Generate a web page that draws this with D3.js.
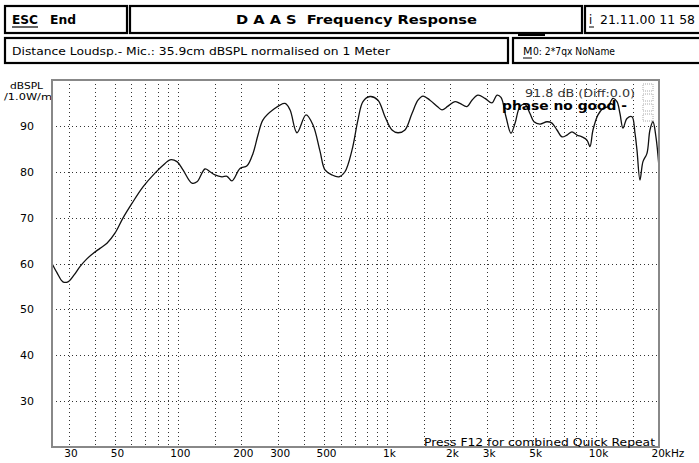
<!DOCTYPE html>
<html><head><meta charset="utf-8">
<script src="https://cdn.jsdelivr.net/npm/d3@7"></script>
<style>
body{margin:0;background:#fff;}
svg{display:block;font-family:"DejaVu Sans",sans-serif;}
</style></head>
<body><svg id="c" width="699" height="463"></svg>
<script>
// ---- data ----
const freqs = [25,26.4,28.2,29.8,31.9,34.0,36.7,39.3,42.4,45.8,50.0,54.6,60.3,68.1,77.7,86.8,91.7,99.0,105.8,116.8,123.4,134.8,142.4,150.5,162.5,171.7,181.4,198.2,214.1,228.7,241.6,255.3,285.0,325.3,343.7,371.3,410.0,442.8,478.3,505.3,545.8,589.4,629.7,680.2,726.6,767.7,829.4,906.0,978.5,1057,1129,1219,1317,1407,1487,1606,1735,1833,1958,2115,2234,2413,2550,2724,2942,3179,3358,3510,3708,3918,4094,4326,4571,4830,5048,5392,5824,6153,6502,6870,7260,7670,8107,8565,9048,9352,9666,10214,10792,11400,12047,12589,13012,13450,14057,14853,15351,15694,16218,16762,17518,18103,18713,19339,20000];
const dbspl = [60.0,58.0,56.0,56.0,57.5,59.3,61.0,62.2,63.3,64.4,66.6,69.9,73.1,76.7,79.7,81.8,82.6,82.2,80.4,77.5,77.8,80.6,80.0,79.3,78.9,79.0,78.0,80.7,81.3,84.0,88.0,91.3,93.5,94.9,93.5,88.5,92.4,90.2,84.5,80.4,79.3,78.9,80.0,84.7,91.3,95.3,96.4,95.6,92.0,89.1,88.5,89.1,92.7,95.6,96.5,95.6,94.3,93.5,94.3,95.3,94.9,94.2,95.6,96.7,96.0,95.0,96.7,96.2,92.0,88.4,90.5,94.2,94.7,92.7,90.9,90.4,90.9,90.6,89.1,87.6,88.0,88.7,88.0,87.6,86.9,85.5,89.1,92.4,93.8,94.2,96.0,95.3,92.7,89.5,91.6,92.0,88.4,84.7,78.2,82.2,84.0,89.1,90.9,87.6,81.0];
const xGrid = [30,40,50,60,70,80,90,100,150,200,300,400,500,600,700,800,900,1000,1500,2000,3000,4000,5000,6000,7000,8000,9000,10000,15000];
const xTickVals = [30,50,100,200,300,500,1000,2000,3000,5000,10000,20000];
const xTickLabels = ["30","50","100","200","300","500","1k","2k","3k","5k","10k","20kHz"];
const yTickVals = [30,40,50,60,70,80,90];
const headerTitle = "D A A S  Frequency Response";
const infoLine = "Distance Loudsp.- Mic.: 35.9cm dBSPL normalised on 1 Meter";
const dateText = "21.11.00 11 58";
const memText = "0: 2*7qx NoName";
const levelText = "91.8 dB (Diff:0.0)";
const phaseText = "phase no good -";
const footText = "Press F12 for combined Quick Repeat";

const svg = d3.select("#c");
const L=52,R=659,T=80,B=447;
const x = d3.scaleLog().domain([25,20000]).range([L,R]);
const y = d3.scaleLinear().domain([20,100]).range([B,T]);

svg.append("rect").attr("width",699).attr("height",463).attr("fill","#fff");

// header boxes
function box(x0,y0,x1,y1){
  svg.append("rect").attr("x",x0).attr("y",y0).attr("width",x1-x0).attr("height",y1-y0)
    .attr("fill","none").attr("stroke","#000").attr("stroke-width",2.2);
}
box(5,6,127,33); box(130,6,582,33); box(585,6,702,33);
box(5,38,508,63); box(513,38,702,63);
svg.append("rect").attr("x",518).attr("y",33).attr("width",27).attr("height",3).attr("fill","#000");

svg.append("text").attr("x",12).attr("y",24).attr("font-size",12.5).attr("font-weight","bold")
  .attr("textLength",26).attr("lengthAdjust","spacingAndGlyphs").text("ESC");
svg.append("text").attr("x",50).attr("y",24).attr("font-size",12.5).attr("font-weight","bold")
  .attr("textLength",26).attr("lengthAdjust","spacingAndGlyphs").text("End");
svg.append("line").attr("x1",12).attr("x2",38).attr("y1",27).attr("y2",27).attr("stroke","#000").attr("stroke-width",1.2);
svg.append("text").attr("x",236).attr("y",24).attr("font-size",12.5).attr("font-weight","bold")
  .attr("textLength",241).attr("lengthAdjust","spacingAndGlyphs").attr("xml:space","preserve").text(headerTitle);
svg.append("text").attr("x",589).attr("y",24).attr("font-size",11.5).text("i");
svg.append("line").attr("x1",589).attr("x2",594).attr("y1",27).attr("y2",27).attr("stroke","#000");
svg.append("text").attr("x",600).attr("y",24).attr("font-size",11.5).attr("textLength",95).attr("lengthAdjust","spacingAndGlyphs").text(dateText);
svg.append("text").attr("x",12).attr("y",55).attr("font-size",11).attr("textLength",378).attr("lengthAdjust","spacingAndGlyphs").text(infoLine);
svg.append("text").attr("x",523).attr("y",55).attr("font-size",11).text("M");
svg.append("line").attr("x1",523).attr("x2",532).attr("y1",58).attr("y2",58).attr("stroke","#000");
svg.append("text").attr("x",533).attr("y",55).attr("font-size",11).attr("textLength",82).attr("lengthAdjust","spacingAndGlyphs").text(memText);

// grid
const g = svg.append("g");
g.selectAll(".vg").data(xGrid).enter().append("line")
  .attr("x1",d=>Math.round(x(d))+0.5).attr("x2",d=>Math.round(x(d))+0.5).attr("y1",T).attr("y2",B)
  .attr("stroke","#333").attr("stroke-width",1).attr("stroke-dasharray","1,3");
g.selectAll(".hg").data(yTickVals).enter().append("line")
  .attr("x1",L).attr("x2",R).attr("y1",d=>Math.round(y(d))+0.5).attr("y2",d=>Math.round(y(d))+0.5)
  .attr("stroke","#333").attr("stroke-width",1).attr("stroke-dasharray","1,3");

// axes (labels only)
const xa = svg.append("g").attr("transform",`translate(2,${B})`)
  .call(d3.axisBottom(x).tickValues(xTickVals).tickSize(0).tickPadding(3).tickFormat((d,i)=>xTickLabels[i]));
xa.select(".domain").remove();
xa.selectAll("text").attr("font-size",10.5).attr("font-family","DejaVu Sans").attr("fill","#000");
xa.selectAll("text").filter((d,i)=>i===xTickLabels.length-1).attr("text-anchor","start").attr("dx",-10);
const ya = svg.append("g").attr("transform",`translate(34,0)`)
  .call(d3.axisLeft(y).tickValues(yTickVals).tickSize(0).tickPadding(0));
ya.select(".domain").remove();
ya.selectAll("text").attr("font-size",11).attr("font-family","DejaVu Sans").attr("fill","#000");
svg.append("text").attr("x",10).attr("y",89).attr("font-size",9.5).attr("textLength",33).attr("lengthAdjust","spacingAndGlyphs").text("dBSPL");
svg.append("text").attr("x",4).attr("y",100).attr("font-size",9.5).attr("textLength",48).attr("lengthAdjust","spacingAndGlyphs").text("/1.0W/m");

// curve
const line = d3.line().x((d,i)=>x(freqs[i])).y(d=>y(d)).curve(d3.curveCatmullRom.alpha(0.5));
svg.append("path").attr("d",line(dbspl)).attr("fill","none").attr("stroke","#111").attr("stroke-width",1.3);

// plot border
svg.append("rect").attr("x",L).attr("y",T).attr("width",R-L).attr("height",B-T)
  .attr("fill","none").attr("stroke","#888").attr("stroke-width",2);

// annotations
svg.append("text").attr("x",525).attr("y",97).attr("font-size",10).attr("fill","#333")
  .attr("textLength",110).attr("lengthAdjust","spacingAndGlyphs").text(levelText);
svg.append("text").attr("x",502).attr("y",110).attr("font-size",13).attr("font-weight","bold")
  .attr("textLength",125).attr("lengthAdjust","spacingAndGlyphs").text(phaseText);
const marks = [0,1,2,3];
svg.selectAll(".mk").data(marks).enter().append("rect")
  .attr("x",643).attr("y",d=>84+d*10).attr("width",10).attr("height",7)
  .attr("fill","none").attr("stroke","#aaa").attr("stroke-width",1).attr("stroke-dasharray","1,1");
svg.append("text").attr("x",424).attr("y",446).attr("font-size",11)
  .attr("textLength",231).attr("lengthAdjust","spacingAndGlyphs").text(footText);
</script></body></html>
